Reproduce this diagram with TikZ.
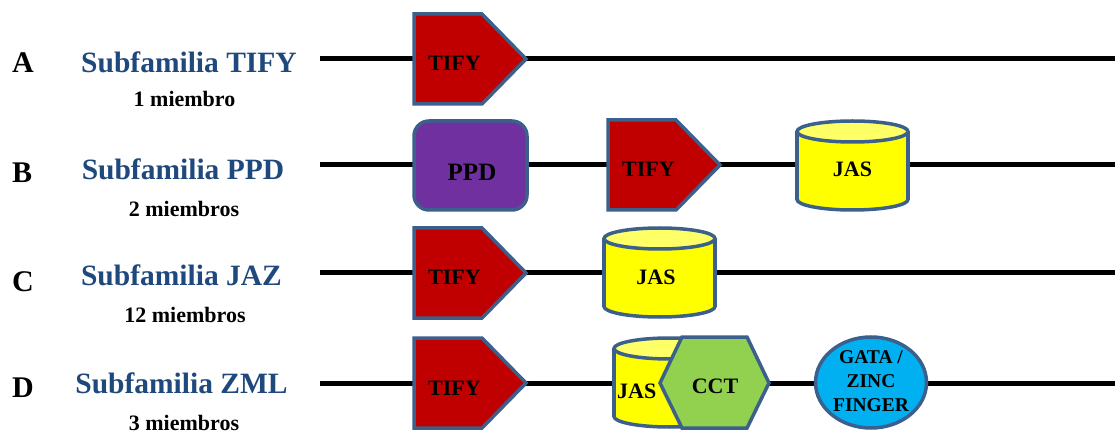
\documentclass[tikz,border=0pt]{standalone}
\usepackage{fontspec}
\setmainfont{Liberation Serif}
\definecolor{bordeC}{RGB}{60,96,140}
\definecolor{rojo}{RGB}{192,0,0}
\definecolor{morado}{RGB}{112,48,160}
\definecolor{amarillo}{RGB}{255,255,0}
\definecolor{tapa}{RGB}{255,255,102}
\definecolor{verde}{RGB}{146,208,80}
\definecolor{celeste}{RGB}{0,176,240}
\definecolor{azulT}{RGB}{31,73,125}
\begin{document}
\begin{tikzpicture}[x=1pt, y=-1pt,
    backbone/.style={line width=5pt},
    dom/.style={draw=bordeC, line width=3.5pt},
    rotulo/.style={anchor=base, inner sep=0pt, font=\fontsize{22}{22}\selectfont\bfseries},
    letra/.style={anchor=base west, inner sep=0pt, font=\fontsize{30}{30}\selectfont\bfseries},
    titulo/.style={anchor=base, inner sep=0pt, text=azulT, font=\fontsize{29.5}{29.5}\selectfont\bfseries},
    miembros/.style={anchor=base, inner sep=0pt, font=\fontsize{22}{22}\selectfont\bfseries}]
  \useasboundingbox (0,0) rectangle (1115,435);
  % backbones
  \foreach \r/\y in {A/59,B/165,C/273,D/383}{
    \coordinate (ini\r) at (320,\y);
    \coordinate (fin\r) at (1115,\y);
    \draw[backbone] (ini\r) -- (fin\r);
  }
  % left column
  \node[letra] (letA) at (12,73) {A};
  \node[titulo] (subA) at (189,73) {Subfamilia TIFY};
  \node[miembros] (nA) at (184.5,107) {1 miembro};
  \node[letra] (letB) at (12,183) {B};
  \node[titulo] (subB) at (183,180) {Subfamilia PPD};
  \node[miembros] (nB) at (184,217) {2 miembros};
  \node[letra] (letC) at (12,291) {C};
  \node[titulo] (subC) at (181.5,286) {Subfamilia JAZ};
  \node[miembros] (nC) at (185,322) {12 miembros};
  \node[letra] (letD) at (12,397) {D};
  \node[titulo] (subD) at (181.5,393) {Subfamilia ZML};
  \node[miembros] (nD) at (184,430) {3 miembros};
  % TIFY domains
  \foreach \x/\y/\r in {414/59/A,608/165/B,414/273/C,414/383/D}{
    \filldraw[dom, fill=rojo] (\x,\y-45) -- ++(68,0) -- ++(44,45) -- ++(-44,45) -- ++(-68,0) -- cycle;
    \node[rotulo, anchor=base west] (tify\r) at (\x+14,\y+12) {TIFY};
  }
  % PPD
  \filldraw[dom, fill=morado, rounded corners=15pt] (414,121) rectangle (527,210);
  \node[rotulo, font=\fontsize{25}{25}\selectfont\bfseries] (ppd) at (472,181) {PPD};
  % JAS cylinders
  \foreach \cx/\cy/\r in {852.5/165.5/B,659.5/272.5/C,669.5/382.5/D}{
    \filldraw[dom, fill=amarillo] (\cx,\cy+34) ellipse [x radius=55.5, y radius=10.5];
    \fill[amarillo] (\cx-55.5,\cy-34) rectangle (\cx+55.5,\cy+34);
    \draw[dom] (\cx-55.5,\cy-34) -- (\cx-55.5,\cy+34) (\cx+55.5,\cy-34) -- (\cx+55.5,\cy+34);
    \filldraw[dom, fill=tapa] (\cx,\cy-34) ellipse [x radius=55.5, y radius=10.5];
  }
  \node[rotulo] (jasB) at (852.5,177) {JAS};
  \node[rotulo] (jasC) at (656,285) {JAS};
  \node[rotulo, anchor=base west] (jasD) at (617,398) {JAS};
  % CCT
  \filldraw[dom, fill=verde] (660,383) -- (682,337) -- (747,337) -- (769,383) -- (747,428) -- (682,428) -- cycle;
  \node[rotulo] (cct) at (715,393) {CCT};
  % GATA / zinc finger
  \filldraw[dom, fill=celeste] (871,382.5) ellipse [x radius=55.5, y radius=45.5];
  \node[align=center, inner sep=0pt, font=\fontsize{19.5}{24}\selectfont\bfseries] (gata) at (871,381) {GATA /\\ZINC\\FINGER};
\end{tikzpicture}
\end{document}
